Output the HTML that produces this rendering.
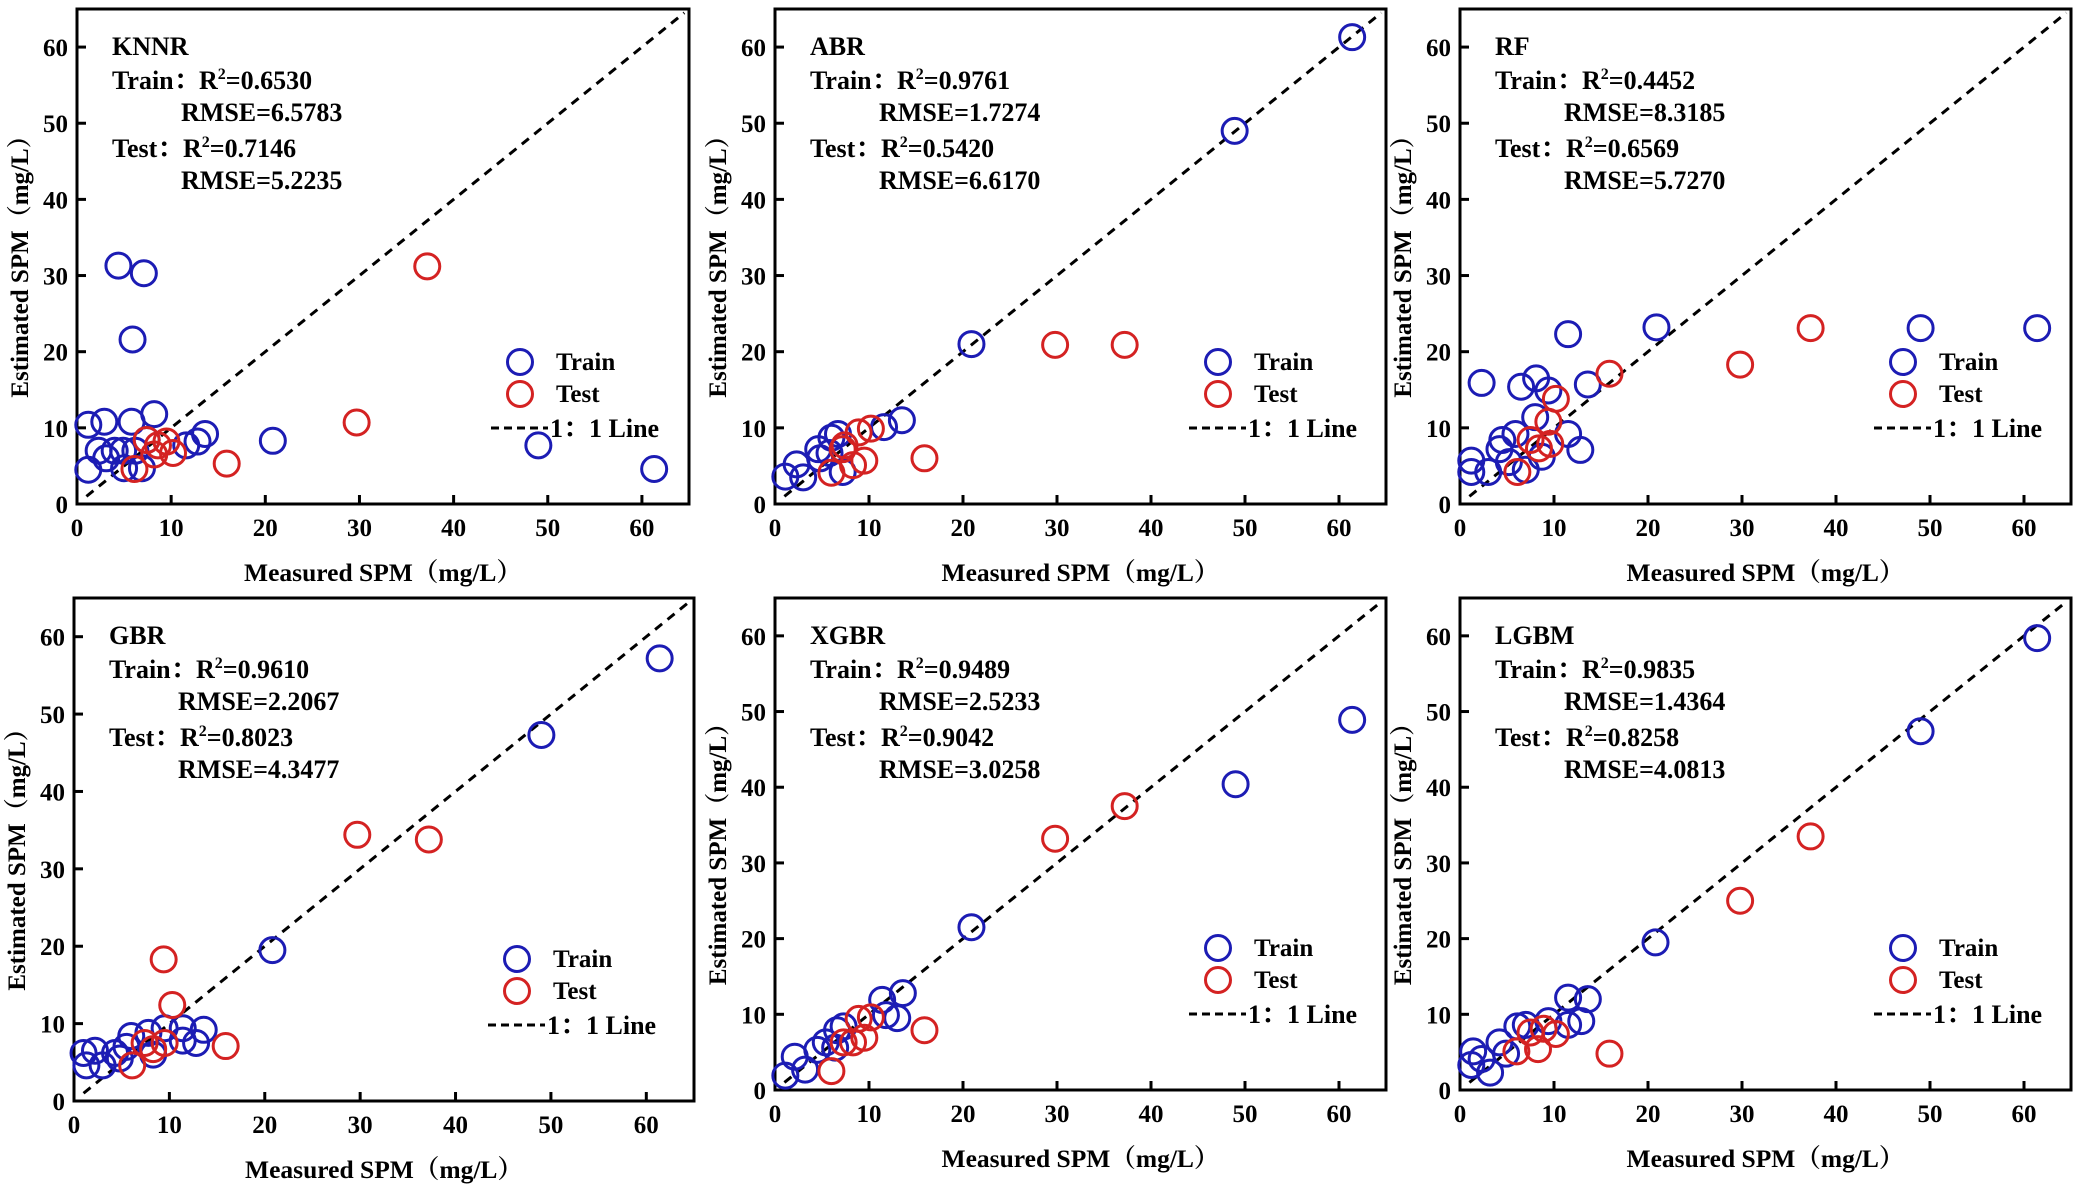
<!DOCTYPE html>
<html><head><meta charset="utf-8">
<style>
html,body{margin:0;padding:0;background:#fff;}
svg{display:block;font-family:"Liberation Serif","Noto Serif CJK SC",serif;font-weight:bold;}
</style></head>
<body>
<svg id="fig" width="2078" height="1188" viewBox="0 0 2078 1188" xmlns="http://www.w3.org/2000/svg"></svg>
<script>
const modelNames = ["KNNR","ABR","RF","GBR","XGBR","LGBM"];
const trainR2 = ["0.6530","0.9761","0.4452","0.9610","0.9489","0.9835"];
const trainRMSE = ["6.5783","1.7274","8.3185","2.2067","2.5233","1.4364"];
const testR2 = ["0.7146","0.5420","0.6569","0.8023","0.9042","0.8258"];
const testRMSE = ["5.2235","6.6170","5.7270","4.3477","3.0258","4.0813"];
const tickValues = [0,10,20,30,40,50,60];
const axisMax = [65,65];

const knnrTrainX=[4.4,7.1,5.9,1.2,2.9,5.8,8.2,13.6,20.8,49,61.3,1.2,2.3,4,4.9,6.2,11.6,12.8,5,6.9,3.1,7.4];
const knnrTrainY=[31.3,30.3,21.6,10.4,10.8,10.8,11.8,9.2,8.3,7.7,4.6,4.5,7,7,7,7,7.7,8.2,4.7,4.7,6,8.4];
const knnrTestX=[37.2,29.7,15.9,6.1,7.4,8.2,10.2,9.5,8.6];
const knnrTestY=[31.2,10.7,5.3,4.6,8.4,6.5,6.7,8.2,7.7];

const abrTrainX=[61.4,48.9,20.9,13.5,11.6,1.1,2.3,3,4.6,4.8,6,6.7,7.2,5.8];
const abrTrainY=[61.3,49,21,11,10.1,3.6,5.2,3.5,7.2,6,8.7,9.2,4.2,6.7];
const abrTestX=[29.8,37.2,15.9,6,7.4,8.3,9.5,8.9,10.2,7.2];
const abrTestY=[20.9,20.9,6,4.1,7.7,5.1,5.7,9.4,9.9,7.2];

const rfTrainX=[61.4,49,20.9,11.5,2.3,6.5,8.1,9.4,13.6,11.5,12.8,8,1.2,1.2,3,4.2,4.5,5.9,7,8.7,5.2];
const rfTrainY=[23.1,23.1,23.2,22.3,15.9,15.4,16.5,14.9,15.7,9.2,7.1,11.4,5.7,4.2,4.2,7.2,8.4,9.2,4.5,6.2,5.5];
const rfTestX=[37.3,29.8,15.9,10.2,9.4,6.1,7.5,8.4,9.6];
const rfTestY=[23.1,18.3,17.1,13.8,10.8,4.2,8.4,7.3,7.9];

const gbrTrainX=[61.4,49,20.8,13.6,11.4,11.4,12.8,1,2.2,1.3,3,4.3,6,7.8,9.5,8.3,5.5,4.8];
const gbrTrainY=[57.2,47.3,19.5,9.2,9.4,7.8,7.5,6.2,6.5,4.6,4.6,6.2,8.4,8.8,9.4,6,7,5.5];
const gbrTestX=[29.7,37.2,9.4,10.3,15.9,6.1,7.4,8.3,9.5];
const gbrTestY=[34.4,33.8,18.3,12.4,7.1,4.6,7.5,6.7,7.5];

const xgbrTrainX=[61.4,49,20.9,13.6,11.4,11.8,13,1.1,2.1,3.2,4.5,5.4,6.6,7.3,6.4];
const xgbrTrainY=[48.9,40.4,21.5,12.8,11.9,9.9,9.5,1.9,4.4,2.7,5.3,6.3,7.9,8.4,5.6];
const xgbrTestX=[29.8,37.2,15.9,6,7.3,8.3,9.5,8.9,10.2];
const xgbrTestY=[33.2,37.5,7.9,2.5,6.3,6.3,6.9,9.4,9.6];

const lgbmTrainX=[61.4,49,20.8,11.5,13.6,12.9,11.5,1.2,1.4,2.3,3.2,4.2,4.9,6.1,7,9.4];
const lgbmTrainY=[59.7,47.4,19.5,12.2,12,9.1,8.6,3.3,5.1,4.1,2.3,6.3,4.8,8.4,8.6,9.1];
const lgbmTestX=[37.3,29.8,15.9,6,7.5,8.3,8.9,10.2];
const lgbmTestY=[33.5,25,4.8,5.1,7.6,5.4,8.1,7.4];

const trainXs=[knnrTrainX,abrTrainX,rfTrainX,gbrTrainX,xgbrTrainX,lgbmTrainX];
const trainYs=[knnrTrainY,abrTrainY,rfTrainY,gbrTrainY,xgbrTrainY,lgbmTrainY];
const testXs=[knnrTestX,abrTestX,rfTestX,gbrTestX,xgbrTestX,lgbmTestX];
const testYs=[knnrTestY,abrTestY,rfTestY,gbrTestY,xgbrTestY,lgbmTestY];

const NS="http://www.w3.org/2000/svg";
const svg=document.getElementById('fig');
const boxes=[[77,689,9,504],[775,1386,9,504],[1460,2071,9,504],[74,694,598,1101],[775,1386,598,1090],[1460,2071,598,1090]];
const BLUE="#1c1cb4", RED="#d42222";
function mk(tag,attrs,parent){const e=document.createElementNS(NS,tag);for(const k in attrs)e.setAttribute(k,attrs[k]);(parent||svg).appendChild(e);return e;}

for(let p=0;p<6;p++){
  const [L,R,T,B]=boxes[p];
  const g=mk('g',{});
  
  
  const sx=v=>L+(R-L)*v/axisMax[0];
  const sy=v=>B-(B-T)*v/axisMax[1];
  const fr=mk('rect',{x:L,y:T,width:R-L,height:B-T,fill:'none',stroke:'#000','stroke-width':3},g);
  
  
  tickValues.forEach(t=>{
    const xt=mk('line',{x1:sx(t),x2:sx(t),y1:B,y2:B-9,stroke:'#000','stroke-width':3},g);
    
    
    const xl=mk('text',{x:sx(t),y:B+32,'font-size':25,'text-anchor':'middle'},g);xl.textContent=t;
    
    
    const yt=mk('line',{x1:L,x2:L+9,y1:sy(t),y2:sy(t),stroke:'#000','stroke-width':3},g);
    
    
    const yl=mk('text',{x:L-9,y:sy(t)+9,'font-size':25,'text-anchor':'end'},g);yl.textContent=t;
    
    
  });
  const xa=mk('text',{x:(L+R)/2,y:B+77,'font-size':25.5,'text-anchor':'middle'},g);
  xa.textContent='Measured SPM（mg/L）';
  
  
  const cy=(T+B)/2+4;
  const ya=mk('text',{x:L-49,y:cy,'font-size':25,'text-anchor':'middle',transform:`rotate(-90 ${L-49} ${cy})`},g);
  ya.textContent='Estimated SPM（mg/L）';
  
  
  const dl=mk('line',{x1:sx(1),y1:sy(1),x2:sx(64.5),y2:sy(64.5),stroke:'#000','stroke-width':3,'stroke-dasharray':'9 7'},g);
  
  
  trainXs[p].forEach((x,i)=>{
    const c=mk('circle',{cx:sx(x),cy:sy(trainYs[p][i]),r:12.5,fill:'none',stroke:BLUE,'stroke-width':3},g);
    
    
  });
  testXs[p].forEach((x,i)=>{
    const c=mk('circle',{cx:sx(x),cy:sy(testYs[p][i]),r:12.5,fill:'none',stroke:RED,'stroke-width':3},g);
    
    
  });
  const tt=mk('text',{x:L+35,y:T+46,'font-size':26},g);tt.textContent=modelNames[p];
  
  
  const lines=[
    [L+35,T+80,'Train：','R','=',trainR2[p],L+122],
    [L+104,T+112,'','RMSE=',null,trainRMSE[p],null],
    [L+35,T+148,'Test：','R','=',testR2[p],L+106],
    [L+104,T+180,'','RMSE=',null,testRMSE[p],null]
  ];
  lines.forEach(ln=>{
    const t=mk('text',{x:ln[0],y:ln[1],'font-size':26},g);
    
    
    if(ln[2]){
      const a=mk('tspan',{},t);a.textContent=ln[2];
      const b=mk('tspan',{x:ln[6]},t);b.textContent='R';
      const s=mk('tspan',{'font-size':16,dy:-10},t);s.textContent='2';
      const c=mk('tspan',{dy:10},t);c.textContent='='+ln[5];
    } else {
      t.textContent=ln[3]+ln[5];
    }
  });
  const lx=L+443, ly=B-142;
  const lg=mk('g',{},g);
  
  
  const c1=mk('circle',{cx:lx,cy:ly,r:12.5,fill:'none',stroke:BLUE,'stroke-width':3},lg);
  
  
  const t1=mk('text',{x:lx+36,y:ly+8,'font-size':25},lg);t1.textContent='Train';
  
  
  const c2=mk('circle',{cx:lx,cy:ly+32,r:12.5,fill:'none',stroke:RED,'stroke-width':3},lg);
  
  
  const t2=mk('text',{x:lx+36,y:ly+40,'font-size':25},lg);t2.textContent='Test';
  
  
  const l3=mk('line',{x1:lx-29,x2:lx+28,y1:ly+66,y2:ly+66,stroke:'#000','stroke-width':3,'stroke-dasharray':'8 5'},lg);
  
  
  const t3=mk('text',{x:lx+30,y:ly+75,'font-size':26},lg);t3.textContent='1：1 Line';
  
  
}
</script>
</body></html>
